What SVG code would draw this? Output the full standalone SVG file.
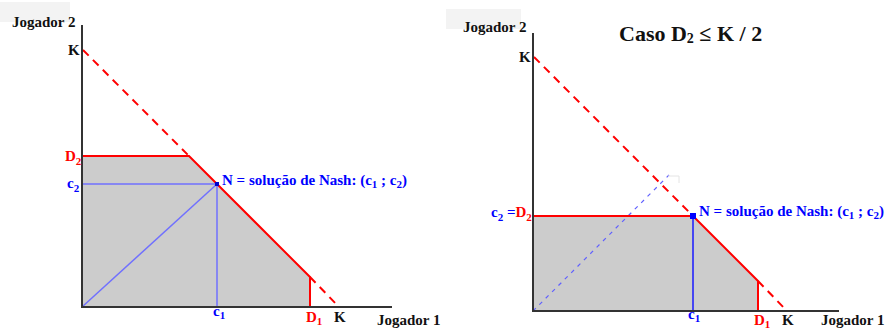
<svg xmlns="http://www.w3.org/2000/svg" width="887" height="329" viewBox="0 0 887 329">
<defs>
<style>
text{font-family:"Liberation Serif","Times New Roman",serif;font-size:15px;font-weight:bold}
.k{fill:#111}
.red{fill:#ff0000}
.blue{fill:#0000ff}
.sub{font-size:11px}
.title{font-size:22px}
.axis{fill:none;stroke:#333;stroke-width:2}
.region{fill:#cccccc;stroke:none}
.frontier{fill:none;stroke:#ff0000;stroke-width:2}
.kline{fill:none;stroke:#ff0000;stroke-width:2;stroke-dasharray:8 6}
.lblue{fill:none;stroke:#7070ff;stroke-width:1.5}
.dblue{fill:none;stroke:#1a1aff;stroke-width:1.5}
.diagdash{fill:none;stroke:#6060ff;stroke-width:1.2;stroke-dasharray:4 5}
</style>
</defs>
<rect width="887" height="329" fill="#ffffff"/>
<g id="left-chart">
<rect x="0" y="2" width="70" height="20" fill="#f3f3f3"/>
<g id="left-region"><polygon class="region" points="82,156 189,156 310,277 310,307 82,307"/></g>
<g id="left-connectors">
<line class="kline" x1="83" y1="50" x2="189" y2="156"/>
<line class="kline" x1="310" y1="277" x2="339" y2="307"/>
<line class="lblue" x1="82" y1="184" x2="217" y2="184"/>
<line class="lblue" x1="217" y1="184" x2="217" y2="307"/>
<line class="lblue" x1="82" y1="307" x2="217" y2="184" stroke-width="1"/>
<polyline class="frontier" points="82,156 189,156 310,277 310,307"/>
<polyline class="axis" points="82,25 82,307 392,307"/>
</g>
<g id="left-nash"><rect x="215" y="182" width="4" height="4" fill="#0000cc"/></g>
<g id="left-labels">
<text class="k" x="12" y="27">Jogador 2</text>
<text class="k" x="68" y="55" font-weight="normal">K</text>
<text class="red" x="65" y="161">D<tspan class="sub" dy="4">2</tspan></text>
<text class="blue" x="67" y="188">c<tspan class="sub" dy="4">2</tspan></text>
<text class="blue" x="222" y="185">N = solução de Nash: (c<tspan class="sub" dy="3">1</tspan><tspan dy="-3"> ; c</tspan><tspan class="sub" dy="3">2</tspan><tspan dy="-3">)</tspan></text>
<text class="blue" x="213" y="316">c<tspan class="sub" dy="3">1</tspan></text>
<text class="red" x="306" y="322" font-weight="normal">D<tspan class="sub" dy="3">1</tspan></text>
<text class="k" x="334" y="322" font-weight="normal">K</text>
<text class="k" x="377" y="325">Jogador 1</text>
</g>
</g>
<g id="right-chart">
<rect x="446" y="9" width="75" height="20" fill="#f3f3f3"/>
<g id="right-title"><text class="k title" x="619" y="41">Caso D<tspan font-size="14px" dy="2">2</tspan><tspan dy="-2"> ≤ K / 2</tspan></text></g>
<g id="right-region"><polygon class="region" points="533,216 693,216 758,281 758,311 533,311"/></g>
<g id="right-connectors">
<line class="diagdash" x1="533" y1="311" x2="669" y2="175"/>
<polyline points="668,176 679,176 679,183" fill="none" stroke="#e4e4e4" stroke-width="1"/>
<line class="kline" x1="534" y1="57" x2="693" y2="216"/>
<line class="kline" x1="758" y1="281" x2="787" y2="311"/>
<polyline class="frontier" points="533,216 693,216 758,281 758,311"/>
<line class="dblue" x1="693" y1="216" x2="693" y2="311"/>
<polyline class="axis" points="533,33 533,311 839,311"/>
</g>
<g id="right-nash"><rect x="690" y="213" width="6" height="6" fill="#0000ff"/></g>
<g id="right-labels">
<text class="k" x="463" y="32">Jogador 2</text>
<text class="k" x="519" y="62" font-weight="normal">K</text>
<text x="491" y="217"><tspan class="blue">c</tspan><tspan class="blue sub" dy="4">2</tspan><tspan class="blue" dy="-4"> =</tspan><tspan class="red">D</tspan><tspan class="red sub" dy="4">2</tspan></text>
<text class="blue" x="699" y="216">N = solução de Nash: (c<tspan class="sub" dy="3">1</tspan><tspan dy="-3"> ; c</tspan><tspan class="sub" dy="3">2</tspan><tspan dy="-3">)</tspan></text>
<text class="blue" x="688" y="319">c<tspan class="sub" dy="3">1</tspan></text>
<text class="red" x="754" y="325" font-weight="normal">D<tspan class="sub" dy="3">1</tspan></text>
<text class="k" x="782" y="325" font-weight="normal">K</text>
<text class="k" x="821" y="325">Jogador 1</text>
</g>
</g>
</svg>
